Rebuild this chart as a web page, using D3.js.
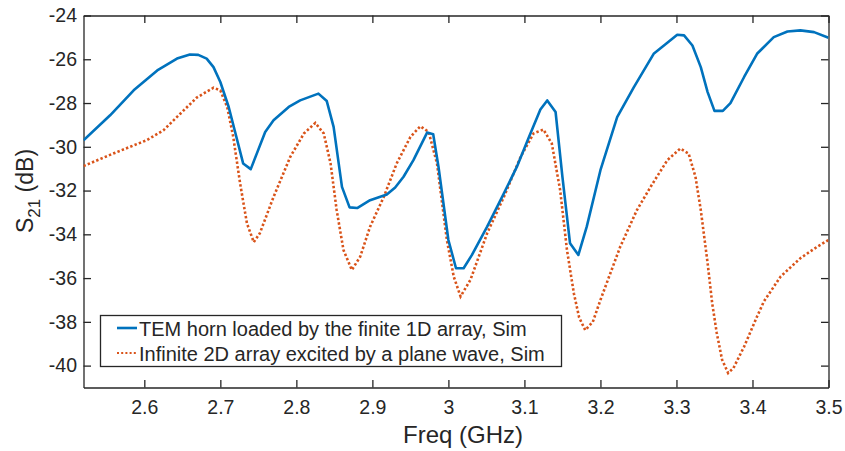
<!DOCTYPE html>
<html>
<head>
<meta charset="utf-8">
<script src="https://cdn.jsdelivr.net/npm/d3@7"></script>
<style>
  body { margin: 0; background: #fff; }
  text { font-family: "Liberation Sans", Arial, Helvetica, sans-serif; fill: #262626; }
</style>
</head>
<body>
<script>
const w = 845;
const h = 451;

// series: frequency (GHz), S21 (dB)
const hornFreq = [2.52, 2.555, 2.586, 2.617, 2.643, 2.660, 2.671, 2.682, 2.691, 2.70, 2.711, 2.730, 2.740, 2.759, 2.770, 2.790, 2.805, 2.829, 2.840, 2.849, 2.860, 2.870, 2.880, 2.897, 2.919, 2.930, 2.941, 2.954, 2.972, 2.980, 2.987, 3.000, 3.010, 3.020, 3.031, 3.051, 3.073, 3.090, 3.106, 3.121, 3.130, 3.141, 3.150, 3.160, 3.171, 3.182, 3.200, 3.222, 3.244, 3.270, 3.288, 3.301, 3.310, 3.321, 3.332, 3.341, 3.350, 3.361, 3.371, 3.389, 3.406, 3.428, 3.446, 3.463, 3.481, 3.50];
const hornS21 = [-29.7, -28.56, -27.42, -26.51, -25.97, -25.78, -25.80, -25.97, -26.36, -27.04, -28.18, -30.76, -31.02, -29.32, -28.79, -28.18, -27.88, -27.57, -27.91, -29.09, -31.83, -32.77, -32.80, -32.44, -32.18, -31.86, -31.37, -30.61, -29.35, -29.43, -30.92, -34.26, -35.55, -35.55, -34.94, -33.65, -32.13, -30.92, -29.55, -28.30, -27.88, -28.41, -31.37, -34.41, -34.94, -33.65, -31.07, -28.64, -27.27, -25.75, -25.25, -24.88, -24.91, -25.37, -26.36, -27.50, -28.36, -28.36, -28.0, -26.81, -25.75, -24.99, -24.73, -24.68, -24.76, -25.02];

const infFreq = [2.52, 2.559, 2.603, 2.625, 2.647, 2.669, 2.691, 2.700, 2.709, 2.717, 2.726, 2.735, 2.744, 2.752, 2.770, 2.792, 2.810, 2.825, 2.836, 2.845, 2.853, 2.862, 2.873, 2.884, 2.897, 2.915, 2.932, 2.950, 2.963, 2.974, 2.985, 2.998, 3.007, 3.016, 3.029, 3.051, 3.073, 3.095, 3.112, 3.125, 3.136, 3.147, 3.156, 3.165, 3.172, 3.180, 3.190, 3.200, 3.226, 3.248, 3.266, 3.288, 3.305, 3.316, 3.325, 3.332, 3.341, 3.347, 3.353, 3.360, 3.368, 3.375, 3.389, 3.406, 3.415, 3.437, 3.463, 3.485, 3.50];
const infS21 = [-30.88, -30.31, -29.70, -29.25, -28.50, -27.75, -27.30, -27.42, -28.18, -29.55, -31.67, -33.50, -34.36, -33.95, -32.29, -30.46, -29.39, -28.91, -29.39, -30.76, -32.89, -34.72, -35.63, -35.02, -33.65, -32.29, -30.76, -29.55, -29.06, -29.32, -30.76, -34.26, -35.93, -36.84, -36.08, -33.95, -32.29, -30.46, -29.39, -29.21, -29.85, -31.98, -34.72, -36.69, -37.8, -38.38, -38.0, -37.0, -34.57, -32.89, -31.83, -30.61, -30.08, -30.31, -31.37, -32.89, -35.32, -37.15, -38.51, -39.73, -40.34, -40.11, -39.13, -37.76, -37.07, -35.93, -35.09, -34.57, -34.26];

const xTicks = [2.6, 2.7, 2.8, 2.9, 3.0, 3.1, 3.2, 3.3, 3.4, 3.5];
const yTicks = [-24, -26, -28, -30, -32, -34, -36, -38, -40];
const legendLabels = ["TEM horn loaded by the finite 1D array, Sim", "Infinite 2D array excited by a plane wave, Sim"];

const mLeft = 83.5, mRight = 828.5, mTop = 15.5, mBottom = 387.5;
const axisColor = "#262626";

const svg = d3.select("body")
              .append("svg")
              .attr("width", w)
              .attr("height", h);

const xScale = d3.scaleLinear().domain([2.52, 3.5]).range([mLeft, mRight]);
const yScale = d3.scaleLinear().domain([-41, -24]).range([mBottom, mTop]);

const tickLen = 7.5;

// bottom & top axes
svg.append("g")
   .attr("transform", "translate(0," + mBottom + ")")
   .call(d3.axisBottom(xScale).tickValues(xTicks).tickSizeInner(-tickLen).tickSizeOuter(0).tickPadding(13)
         .tickFormat(d => d === 3 ? "3" : d3.format(".1f")(d)));
svg.append("g")
   .attr("transform", "translate(0," + mTop + ")")
   .call(d3.axisTop(xScale).tickValues(xTicks).tickSizeInner(-tickLen).tickSizeOuter(0).tickFormat(""));

// left & right axes
svg.append("g")
   .attr("transform", "translate(" + mLeft + ",0)")
   .call(d3.axisLeft(yScale).tickValues(yTicks).tickSizeInner(-tickLen).tickSizeOuter(0).tickPadding(6.5)
         .tickFormat(d => String(d)));
svg.append("g")
   .attr("transform", "translate(" + mRight + ",0)")
   .call(d3.axisRight(yScale).tickValues(yTicks).tickSizeInner(-tickLen).tickSizeOuter(0).tickFormat(""));

svg.selectAll(".domain").attr("stroke", axisColor).attr("stroke-width", 1.3);
svg.selectAll(".tick line").attr("stroke", axisColor).attr("stroke-width", 1.3);
svg.selectAll(".tick text").style("font-size", "19.5px").attr("fill", axisColor);

svg.append("clipPath").attr("id", "clip")
   .append("rect").attr("x", mLeft).attr("y", mTop).attr("width", mRight - mLeft).attr("height", mBottom - mTop);

const line = d3.line()
   .x(d => xScale(d[0]))
   .y(d => yScale(d[1]));

svg.append("path")
   .datum(infFreq.map((f, i) => [f, infS21[i]]))
   .attr("clip-path", "url(#clip)")
   .attr("fill", "none")
   .attr("stroke", "#D95319")
   .attr("stroke-width", 2.6)
   .attr("stroke-dasharray", "2.4,2.2")
   .attr("d", line);

svg.append("path")
   .datum(hornFreq.map((f, i) => [f, hornS21[i]]))
   .attr("clip-path", "url(#clip)")
   .attr("fill", "none")
   .attr("stroke", "#0072BD")
   .attr("stroke-width", 2.6)
   .attr("stroke-linejoin", "round")
   .attr("d", line);

// axis labels
svg.append("text")
   .attr("x", 463)
   .attr("y", 443)
   .attr("text-anchor", "middle")
   .style("font-size", "24px")
   .text("Freq (GHz)");

const yl = svg.append("text")
   .attr("transform", "translate(33,191) rotate(-90)")
   .attr("text-anchor", "middle")
   .style("font-size", "23px");
yl.append("tspan").text("S");
yl.append("tspan").attr("dy", 7).style("font-size", "17px").text("21");
yl.append("tspan").attr("dy", -7).text(" (dB)");

// legend
const legend = svg.append("g");
legend.append("rect")
   .attr("x", 100.5).attr("y", 315.5)
   .attr("width", 461).attr("height", 51)
   .attr("fill", "#fff")
   .attr("stroke", axisColor)
   .attr("stroke-width", 1.3);

const legendColors = ["#0072BD", "#D95319"];
legendLabels.forEach((lab, i) => {
  const yy = 328 + i * 25;
  legend.append("line")
     .attr("x1", 117).attr("x2", 137).attr("y1", yy).attr("y2", yy)
     .attr("stroke", legendColors[i])
     .attr("stroke-width", i === 0 ? 2.6 : 2)
     .attr("stroke-dasharray", i === 0 ? null : "2,2.2");
  legend.append("text")
     .attr("x", 139).attr("y", yy + 8)
     .style("font-size", "20px")
     .attr("fill", "#000")
     .text(lab);
});
</script>
</body>
</html>
